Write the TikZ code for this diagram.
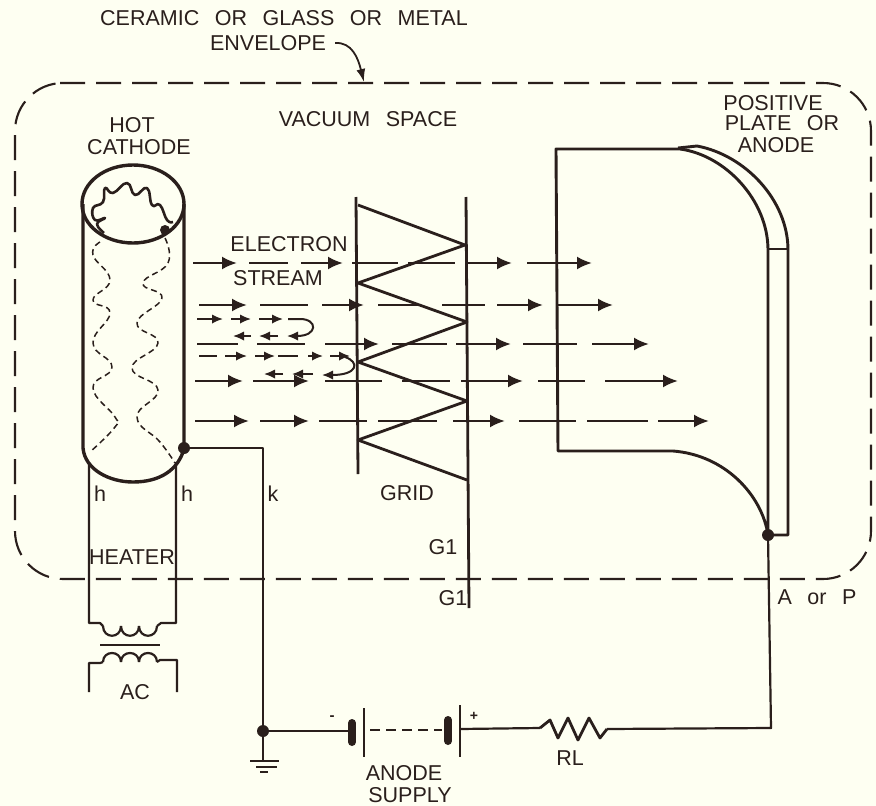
\documentclass[tikz,border=0pt]{standalone}
\usepackage{fontspec}
\setmainfont[WordSpace=2.6]{Liberation Sans}
\usetikzlibrary{arrows.meta}
\definecolor{ink}{RGB}{42,31,28}
\definecolor{paper}{RGB}{254,255,242}

\begin{document}
\begin{tikzpicture}[
  x=1pt, y=-1pt,
  line join=round,
  lbl/.style={inner sep=0pt, text=ink, font=\fontsize{21.5}{24}\selectfont},
  wire/.style={color=ink, line width=2.2pt},
  tube/.style={color=ink, line width=3.4pt},
  plate/.style={color=ink, line width=2.9pt},
  gridw/.style={color=ink, line width=2.8pt},
  jdot/.style={circle, fill=ink, inner sep=0pt, minimum size=12pt},
  envelope/.style={color=ink, line width=2.1pt, dash pattern=on 25pt off 11pt, rounded corners=48pt},
  spiral/.style={color=ink, line width=1.5pt, dash pattern=on 6pt off 4pt},
  beam/.style={color=ink, line width=2.4pt},
  beamarr/.style={beam, -{Latex[length=15pt, width=13pt]}},
  smallbeam/.style={color=ink, line width=2pt},
  smallarr/.style={smallbeam, -{Latex[length=11pt, width=9.5pt]}},
]
\fill[paper] (0,0) rectangle (876,806);
\useasboundingbox (0,0) rectangle (876,806);

% === Labels ===
\node[lbl] (title1) at (284,18) {CERAMIC OR GLASS OR METAL};
\node[lbl] (title2) at (268,43) {ENVELOPE};
\node[lbl] (vacuum) at (368,119) {VACUUM SPACE};
\node[lbl] (hot) at (132,125) {HOT};
\node[lbl] (cathode) at (139,147) {CATHODE};
\node[lbl] (posit) at (773,103) {POSITIVE};
\node[lbl] (plateor) at (782,123) {PLATE OR};
\node[lbl] (anode) at (776,145) {ANODE};
\node[lbl] (electron) at (289,244) {ELECTRON};
\node[lbl] (stream) at (278,278) {STREAM};
\node[lbl] (gridlbl) at (407,493) {GRID};
\node[lbl] (g1a) at (443,547) {G1};
\node[lbl] (g1b) at (453,598) {G1};
\node[lbl] (h1) at (100,494) {h};
\node[lbl] (h2) at (187,494) {h};
\node[lbl] (k) at (273,494) {k};
\node[lbl] (heater) at (132,557) {HEATER};
\node[lbl] (ac) at (135,692) {AC};
\node[lbl] (aorp) at (817,597) {A or P};
\node[lbl] (rl) at (570,758) {RL};
\node[lbl] (supply1) at (404,773) {ANODE};
\node[lbl] (supply2) at (410,795) {SUPPLY};
\node[lbl, font=\fontsize{15}{16}\selectfont\bfseries] (minus) at (332,718) {-};
\node[lbl, font=\fontsize{14}{16}\selectfont\bfseries] (plus) at (474,716) {+};

% === Envelope ===
\draw[envelope] (60,83) -- (871,83) -- (871,579) -- (15,579) -- (15,83) -- (60,83);
\coordinate (tip) at (364,82);
\draw[wire, line width=1.8pt, -{Latex[length=13pt, width=9pt]}]
  (title2.east) ++(9,0) .. controls (352,42) and (358,58) .. (tip);

% === Cathode ===
\draw[tube] (133,204) ellipse [x radius=51pt, y radius=39pt];
\draw[tube] (83,204) -- (83,448) .. controls (85,470) and (110,482) .. (133,482)
  .. controls (160,482) and (178,470) .. (184,449) -- (184,204);
\draw[wire, line width=2.6pt] plot[smooth, tension=0.8] coordinates {(104,233) (97,224) (105,218) (95,220) (93,208)
  (103,202) (105,188) (113,193) (127,183) (135,195) (147,188) (152,205) (160,205) (167,220) (173,222)};
\fill[ink] (165,230) circle [radius=5pt];
\draw[spiral] plot[smooth, tension=0.8] coordinates {(100,242) (93,255) (110,280) (93,300) (110,313)
  (93,343) (112,367) (93,388) (115,417) (115,427) (90,452)};
\draw[spiral] plot[smooth, tension=0.8] coordinates {(165,238) (168,263) (143,283) (162,298) (137,323)
  (158,343) (132,368) (158,390) (137,417) (160,442) (175,463)};

% === Grid ===
\draw[gridw] (356,197) -- (358,474);
\draw[gridw] (466,197) -- (469,608);
\draw[gridw] (358,205) -- (465,245) -- (358,283) -- (467,322) -- (358,362)
  -- (467,401) -- (358,440) -- (467,480);

% === Anode ===
\draw[plate] (768,535) .. controls (762,495) and (725,455) .. (673,451) -- (558,451)
  -- (556,149) -- (680,149) .. controls (725,155) and (768,200) .. (768,250) -- (768,535);
\draw[plate] (678,148) -- (697,146) .. controls (745,155) and (788,200) .. (788,250) -- (788,535) -- (768,535);
\draw[plate] (768,249) -- (788,249);

% === Electron stream ===
\foreach \y/\a/\b in {263/249/288, 263/352/398, 263/408/455,
                      305/260/308, 305/378/420, 305/442/485,
                      344/197/238, 344/257/305, 344/392/447, 344/523/577,
                      381/325/382, 381/402/450, 381/538/585,
                      421/319/367, 421/378/437, 421/519/576, 421/587/648}
  \draw[beam] (\a,\y) -- (\b,\y);
\foreach \y/\a/\b in {263/193/237, 263/301/343, 263/468/512, 263/527/592,
                      305/199/247, 305/322/364, 305/497/543, 305/557/613,
                      344/325/379, 344/456/511, 344/592/649,
                      381/195/243, 381/253/309, 381/461/523, 381/605/678,
                      421/195/249, 421/260/309, 421/453/505, 421/658/709}
  \draw[beamarr] (\a,\y) -- (\b,\y);
% returning electrons
\foreach \y/\a/\b in {356/199/217, 356/278/298}
  \draw[smallbeam] (\a,\y) -- (\b,\y);
\foreach \y/\a/\b in {319/197/223, 319/231/251, 319/259/283,
                      356/225/247, 356/255/275, 356/308/323, 356/330/350,
                      336/251/233, 336/278/259, 374/283/264, 374/313/292}
  \draw[smallarr] (\a,\y) -- (\b,\y);
\draw[smallarr] (288,319) -- (300,319) .. controls (318,319) and (318,336) .. (287,336);
\draw[smallarr] (345,357) .. controls (360,362) and (358,375) .. (322,375);

% === Circuit ===
\node[jdot] (dotK) at (184,448) {};
\node[jdot] (dotG) at (263,731) {};
\node[jdot] (dotA) at (768,535) {};
\coordinate (gnd) at (263,761);
\coordinate (heatL) at (89,623);
\coordinate (heatR) at (176,623);
\coordinate (acL) at (89,663);
\coordinate (acR) at (177,660);
\coordinate (batN) at (352,731);
\coordinate (batP) at (460,729);
\coordinate (resIn) at (540,728);
\coordinate (resOut) at (607,729);
\coordinate (load) at (771,728);

\draw[wire] (dotK) -| (dotG);
\draw[wire] (dotG) -- (gnd);
\draw[wire, line width=2.6pt] (250,761) -- (279,761);
\draw[wire, line width=2.6pt] (256,767) -- (277,767);
\draw[wire, line width=2.6pt] (260,772) -- (268,772);
\draw[wire] (dotG) -- (batN);

% heater transformer
\draw[wire] (89,462) -- (heatL) -- (100,623) -- (103,626);
\draw[wire] (176,462) -- (heatR) -- (161,623) -- (157,626);
\foreach \x in {103,121,139}
  \draw[wire] (\x,626) .. controls +(0,13) and +(0,13) .. +(18,0);
\draw[wire, line width=2.6pt] (100,645) -- (160,645);
\draw[wire] (89,692) -- (acL) -- (100,663) -- (103,662);
\draw[wire] (177,692) -- (acR) -- (160,660) -- (157,662);
\foreach \x in {103,121,139}
  \draw[wire] (\x,662) .. controls +(0,-12) and +(0,-12) .. +(18,0);

% anode supply
\draw[color=ink, line width=8pt, line cap=round] (352,723) -- (352,742);
\draw[wire, line width=2.8pt] (364,708) -- (364,757);
\draw[wire, dash pattern=on 10pt off 6pt] (370,730) -- (442,730);
\draw[color=ink, line width=8pt, line cap=round] (448,720) -- (448,741);
\draw[wire, line width=2.8pt] (460,705) -- (460,757);
\draw[wire] (batP) -- (resIn);
\draw[wire, line width=2.8pt] (resIn) -- (550,720) -- (558,738) -- (568,718) -- (578,740)
  -- (589,718) -- (600,738) -- (resOut);
\draw[wire] (resOut) -- (load) -- (dotA);
\end{tikzpicture}
\end{document}
